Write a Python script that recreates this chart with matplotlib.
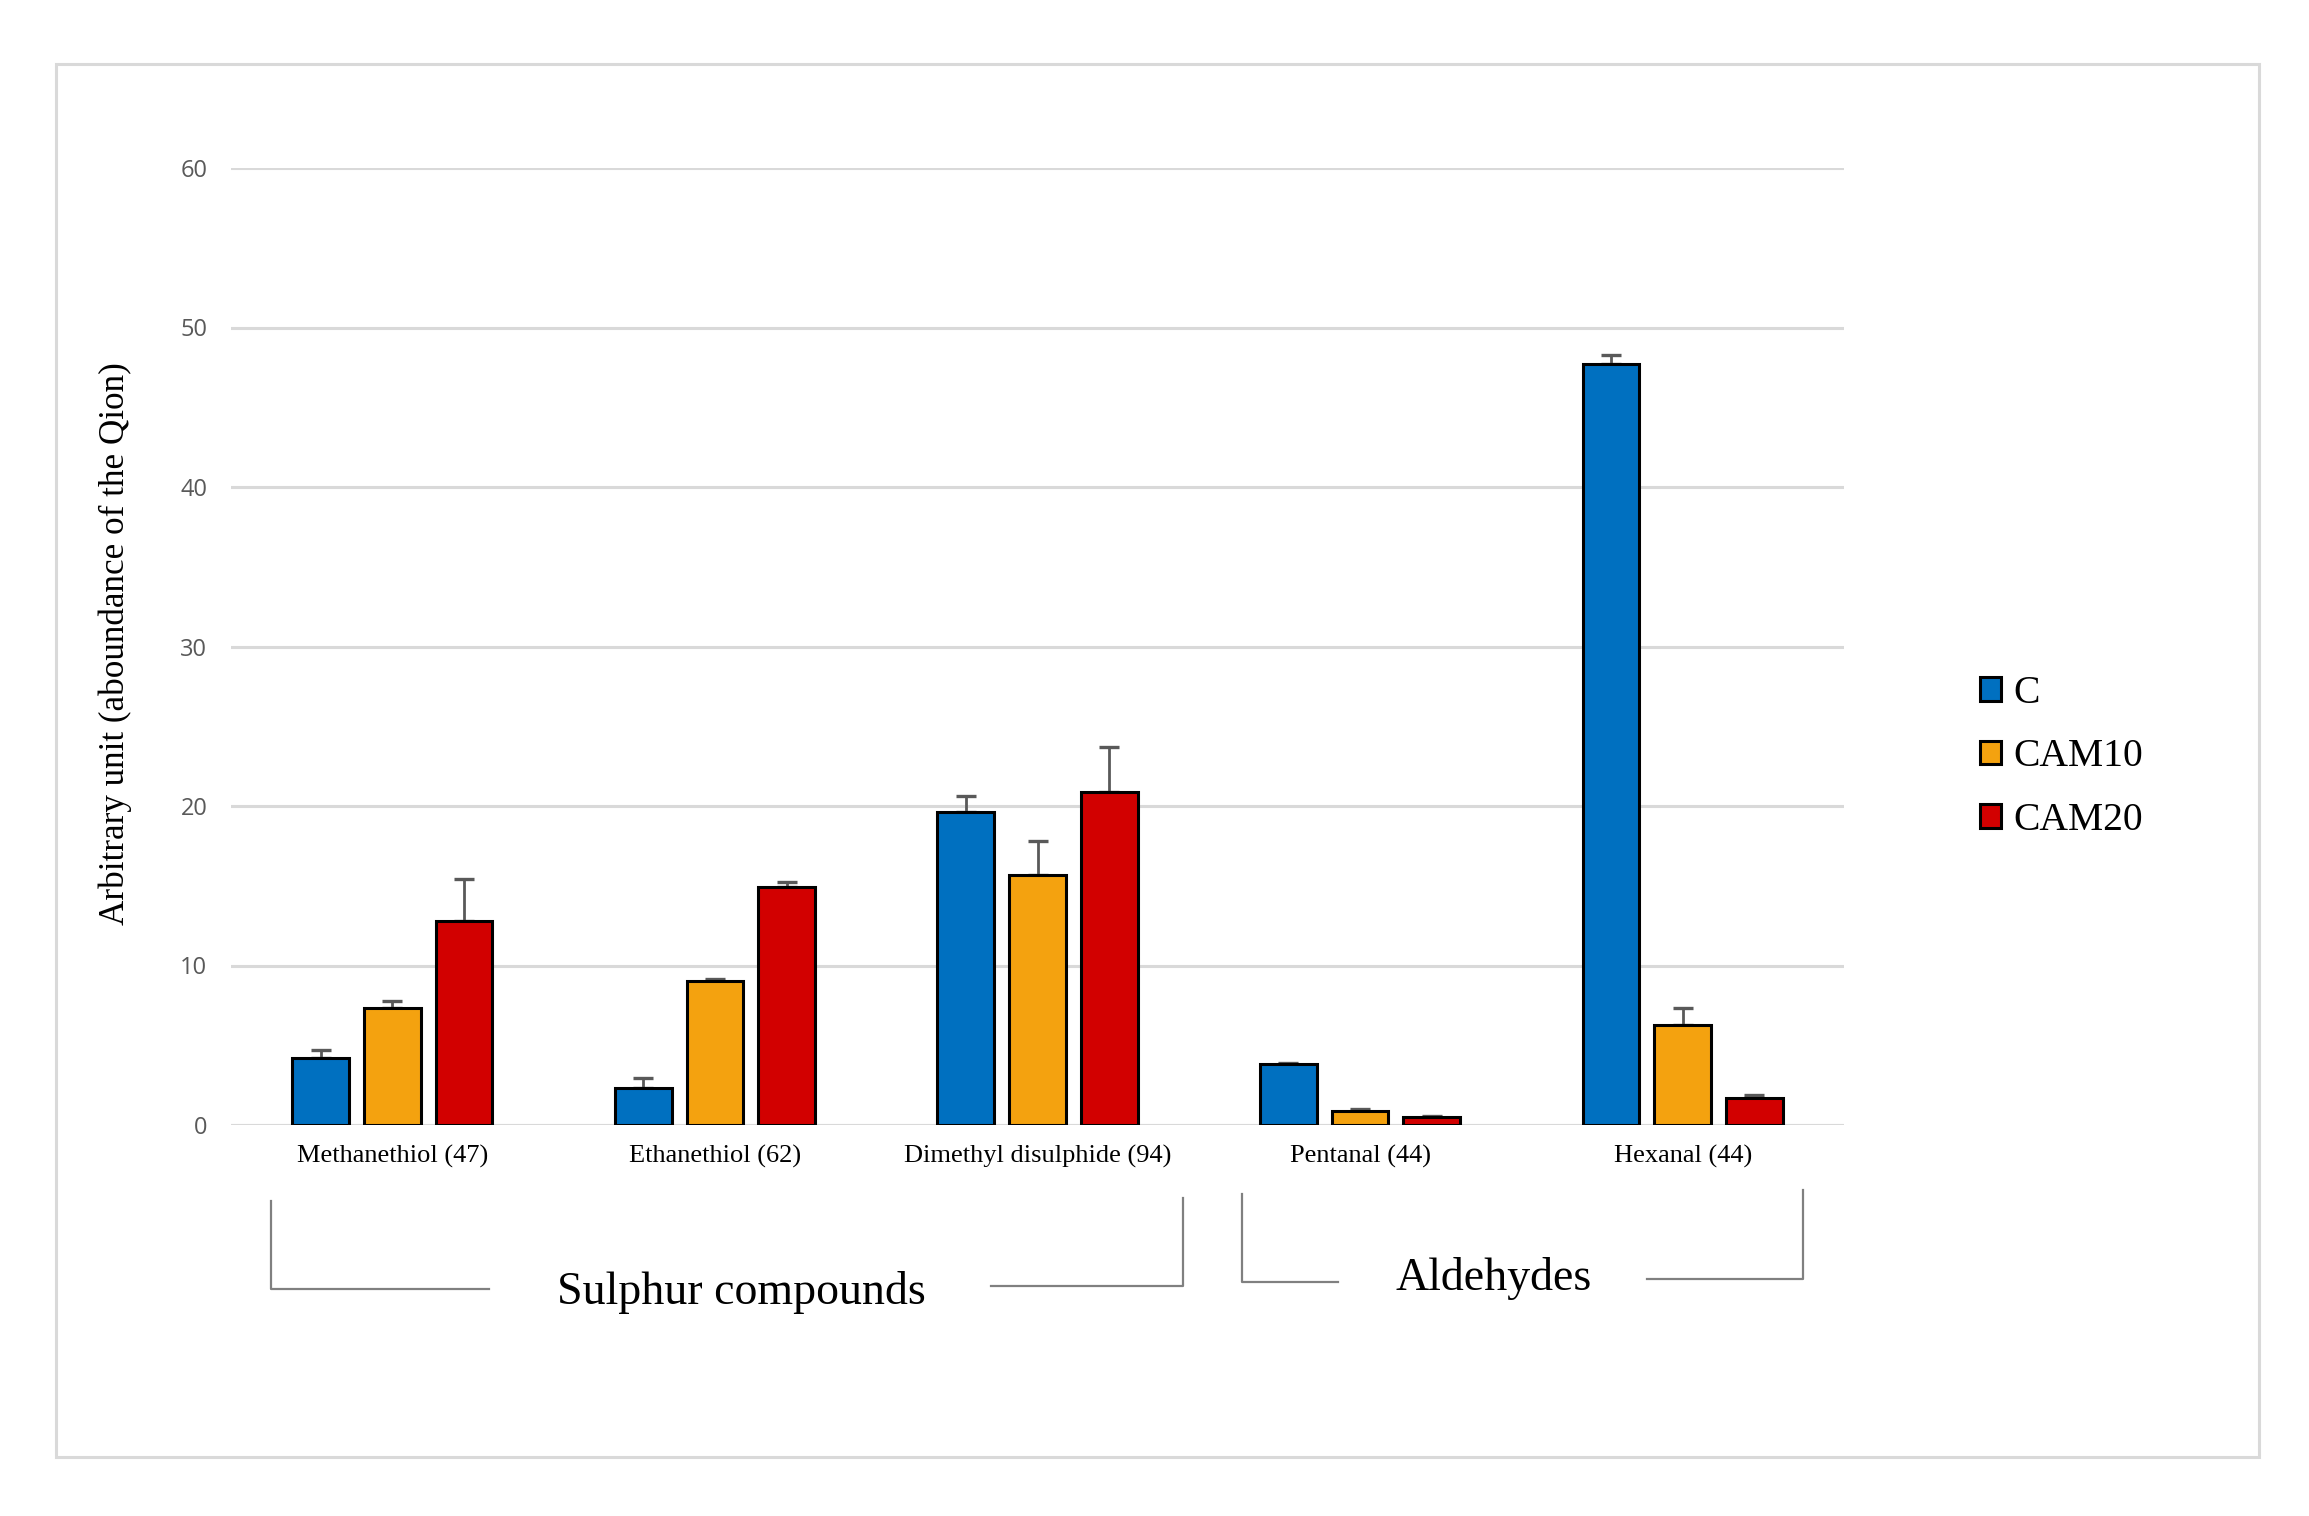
import numpy as np
import matplotlib
matplotlib.use('Agg')
import matplotlib.pyplot as plt
from matplotlib.lines import Line2D
from matplotlib.patches import Rectangle

# data
compounds = ['Methanethiol (47)', 'Ethanethiol (62)', 'Dimethyl disulphide (94)',
             'Pentanal (44)', 'Hexanal (44)']
series = ['C', 'CAM10', 'CAM20']
c_vals = [4.2, 2.35, 19.6, 3.8, 47.7]
c_err = [0.5, 0.6, 1.0, 0.07, 0.55]
cam10_vals = [7.35, 9.05, 15.7, 0.85, 6.3]
cam10_err = [0.4, 0.08, 2.1, 0.15, 1.05]
cam20_vals = [12.8, 14.95, 20.85, 0.48, 1.68]
cam20_err = [2.6, 0.3, 2.85, 0.08, 0.18]
colors = ['#0070C0', '#F4A20F', '#D20000']
groups = ['Sulphur compounds', 'Aldehydes']

W, H = 2309, 1516
fig = plt.figure(figsize=(W / 100, H / 100), dpi=100)

def fx(px):
    return px / W

def fy(py):
    return 1 - py / H

ax = fig.add_axes([fx(231), fy(1125), fx(1844) - fx(231), fy(168) - fy(1125)])

x = np.arange(len(compounds))
width = 0.176
step = 0.222
vals = [c_vals, cam10_vals, cam20_vals]
errs = [c_err, cam10_err, cam20_err]
for i in range(3):
    ax.bar(x + (i - 1) * step, vals[i], width, color=colors[i], edgecolor='black',
           linewidth=2.2, label=series[i], zorder=3,
           yerr=[np.zeros(len(compounds)), errs[i]],
           error_kw=dict(ecolor='#595959', elinewidth=2.0, capsize=7, capthick=2.4, zorder=2))

ax.set_xlim(-0.5, 4.5)
ax.set_ylim(0, 60)
ax.set_yticks(range(0, 61, 10))
ax.yaxis.grid(True, color='#D9D9D9', linewidth=2.2, zorder=0)
ax.set_axisbelow(True)
for s in ax.spines.values():
    s.set_visible(False)
ax.tick_params(axis='both', length=0)
ax.tick_params(axis='y', labelsize=17, labelcolor='#595959', pad=17)
for t in ax.get_yticklabels():
    t.set_fontfamily('Open Sans')
ax.set_xticks(x)
ax.set_xticklabels(compounds, fontfamily='Liberation Serif', fontsize=19)
ax.tick_params(axis='x', pad=14)
ax.axhline(0, color='#D9D9D9', linewidth=2.2, zorder=1)

fig.text(fx(115), fy(644), 'Arbitrary unit (aboundance of the Qion)', rotation=90,
         ha='center', va='center', fontfamily='Liberation Serif', fontsize=25.3)

leg = ax.legend(loc='center left', bbox_to_anchor=(fx(1944), fy(757)),
                bbox_transform=fig.transFigure, frameon=False,
                prop={'family': 'Liberation Serif', 'size': 28.5},
                handlelength=0.55, handleheight=0.55, handletextpad=0.3, labelspacing=0.66)

# group brackets under the axis
gray = '#808080'
brackets = [
    [(271, 1201), (271, 1289), (489, 1289)],
    [(991, 1286), (1183, 1286), (1183, 1198)],
    [(1242, 1194), (1242, 1282), (1338, 1282)],
    [(1647, 1279), (1803, 1279), (1803, 1190)],
]
for b in brackets:
    fig.add_artist(Line2D([fx(p[0]) for p in b], [fy(p[1]) for p in b],
                          color=gray, linewidth=1.6))
fig.text(fx(741), fy(1292), groups[0], ha='center', va='center',
         fontfamily='Liberation Serif', fontsize=33)
fig.text(fx(1494), fy(1279), groups[1], ha='center', va='center',
         fontfamily='Liberation Serif', fontsize=33)

# outer frame
fig.add_artist(Rectangle((fx(56), fy(1457)), fx(2259) - fx(56), fy(64) - fy(1457),
                         transform=fig.transFigure, fill=False,
                         edgecolor='#D9D9D9', linewidth=2.2))

fig.savefig('out.png', dpi=100)
